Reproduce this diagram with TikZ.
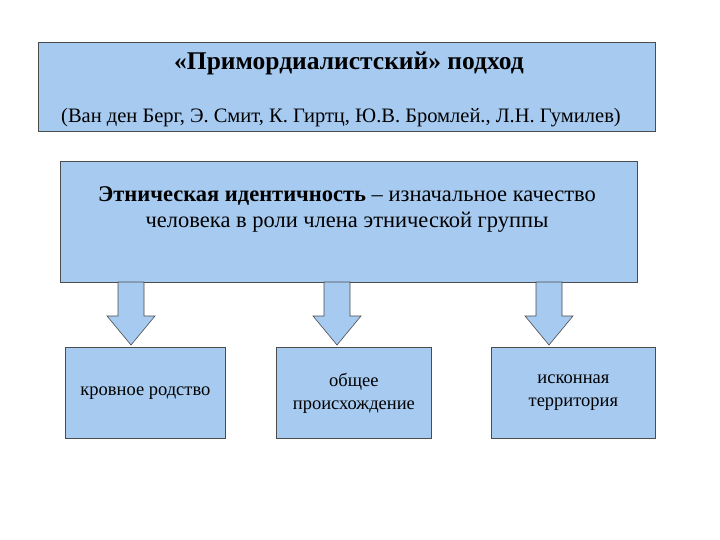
\documentclass[tikz,border=0pt]{standalone}
\usepackage{fontspec}
\setmainfont{Liberation Serif}
\definecolor{bfill}{RGB}{166,202,240}
\begin{document}
\begin{tikzpicture}[x=1pt,y=-1pt,
 box/.style={draw=black!70,fill=bfill,line width=0.8pt},
 arr/.style={draw=black!70,fill=bfill,line width=0.6pt},
 small/.style={align=center,font=\fontsize{18.5}{23}\selectfont}]
\useasboundingbox (0,0) rectangle (720,540);
\fill[white] (0,0) rectangle (720,540);
\node[box,minimum width=617,minimum height=89,anchor=north west] (top) at (38,42) {};
\node (t1) at (349,63) {\fontsize{25.5}{28}\selectfont\bfseries «Примордиалистский» подход};
\node (t2) at (341,118) {\fontsize{20.5}{24}\selectfont (Ван ден Берг, Э. Смит, К. Гиртц, Ю.В. Бромлей., Л.Н. Гумилев)};
\node[box,minimum width=577,minimum height=121,anchor=north west] (mid) at (60,161) {};
\node[align=center,font=\fontsize{22.5}{26}\selectfont] (mt) at (347,209) {\textbf{Этническая идентичность} -- изначальное качество\\человека в роли члена этнической группы};
\foreach \c/\n in {131/a1,337/a2,549/a3}{
 \draw[arr] (\c-13,282) -- (\c+13,282) -- (\c+13,316) -- (\c+24,316) -- (\c,345) -- (\c-24,316) -- (\c-13,316) -- cycle;
}
\node[box,minimum width=160,minimum height=91,anchor=north west] (b1) at (65,347) {};
\node[box,minimum width=155,minimum height=91,anchor=north west] (b2) at (276,347) {};
\node[box,minimum width=164,minimum height=91,anchor=north west] (b3) at (491,347) {};
\node[small] at (b1.center) {кровное родство};
\node[small] at (b2.center) {общее\\происхождение};
\node[small] at (b3.center) {исконная\\территория};
\end{tikzpicture}
\end{document}
